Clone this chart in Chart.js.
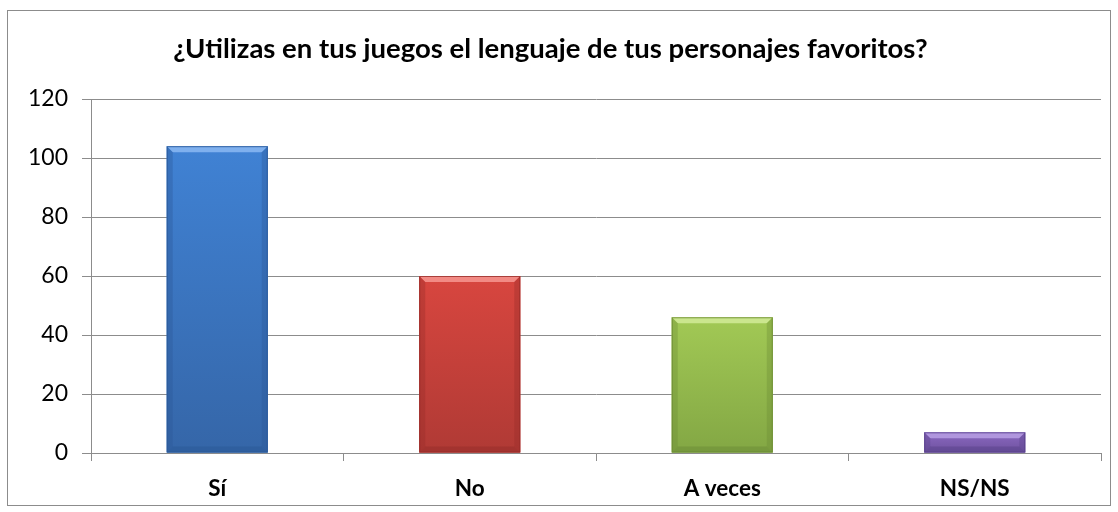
<!DOCTYPE html>
<html>
<head>
<meta charset="utf-8">
<script src="https://cdn.jsdelivr.net/npm/chart.js@4"></script>
<style>
  body { margin: 0; background: #fff; }
  #wrap { position: relative; width: 1118px; height: 512px; }
  #frame { position: absolute; left: 7px; top: 10px; width: 1102px; height: 494px; border: 1px solid #8c8c8c; pointer-events: none; }
</style>
</head>
<body>
<div id="wrap">
  <canvas id="chart" width="1118" height="512"></canvas>
  <div id="frame"></div>
</div>
<script>
const titleText = '¿Utilizas en tus juegos el lenguaje de tus personajes favoritos?';
const categories = ['Sí', 'No', 'A veces', 'NS/NS'];
const values = [104, 60, 46, 7];
const barColors = ['#4082d4', '#d8463f', '#a2c955', '#8a68c0'];
const bottomColors = ['#3566a8', '#b03a35', '#83a744', '#6f52a0'];
const lightColors = ['#7fb0ee', '#f28a84', '#cbe68e', '#b096de'];
const darkColors = ['#2a5796', '#962c29', '#6a8935', '#58418a'];

const FONT = "Lato, 'Noto Sans', sans-serif";

// bevel look on the bars, drawn from the bar elements' own geometry
const bevel = {
  id: 'bevel',
  afterDatasetsDraw(chart) {
    const ctx = chart.ctx;
    const meta = chart.getDatasetMeta(0);
    meta.data.forEach((bar, i) => {
      const { x, y, base, width } = bar.getProps(['x', 'y', 'base', 'width'], true);
      const l = x - width / 2, r = x + width / 2, t = y, b = base;
      const d = Math.min(6, (b - t) / 2);
      ctx.save();
      // face gradient
      const g = ctx.createLinearGradient(0, t, 0, b);
      g.addColorStop(0, barColors[i]);
      g.addColorStop(1, bottomColors[i]);
      ctx.fillStyle = g;
      ctx.fillRect(l, t, width, b - t);
      // top
      ctx.fillStyle = lightColors[i];
      ctx.beginPath();
      ctx.moveTo(l, t); ctx.lineTo(r, t); ctx.lineTo(r - d, t + d); ctx.lineTo(l + d, t + d);
      ctx.closePath(); ctx.fill();
      // sides and bottom
      ctx.fillStyle = darkColors[i];
      ctx.globalAlpha = 0.35;
      ctx.beginPath();
      ctx.moveTo(l, t); ctx.lineTo(l + d, t + d); ctx.lineTo(l + d, b - d); ctx.lineTo(l, b);
      ctx.closePath(); ctx.fill();
      ctx.beginPath();
      ctx.moveTo(r, t); ctx.lineTo(r, b); ctx.lineTo(r - d, b - d); ctx.lineTo(r - d, t + d);
      ctx.closePath(); ctx.fill();
      ctx.globalAlpha = 0.5;
      ctx.beginPath();
      ctx.moveTo(l, b); ctx.lineTo(r, b); ctx.lineTo(r - d, b - d); ctx.lineTo(l + d, b - d);
      ctx.closePath(); ctx.fill();
      ctx.globalAlpha = 0.8;
      ctx.strokeStyle = darkColors[i];
      ctx.lineWidth = 1;
      ctx.strokeRect(l + 0.5, t + 0.5, width - 1, b - t - 1);
      ctx.restore();
    });
  }
};

new Chart(document.getElementById('chart'), {
  type: 'bar',
  data: {
    labels: categories,
    datasets: [{
      data: values,
      backgroundColor: barColors,
      borderWidth: 0,
      barPercentage: 0.4,
      categoryPercentage: 1.0
    }]
  },
  options: {
    responsive: false,
    animation: false,
    layout: { padding: { top: 10, right: 17, bottom: 0, left: 0 } },
    plugins: {
      legend: { display: false },
      tooltip: { enabled: false },
      title: {
        display: true,
        text: titleText,
        color: '#000',
        font: { family: FONT, size: 27.5, weight: 'bold' },
        padding: { top: 23, bottom: 33 }
      }
    },
    scales: {
      x: {
        grid: { display: true, drawOnChartArea: false, offset: true, color: '#8c8c8c', tickLength: 8 },
        border: { color: '#8c8c8c' },
        ticks: { color: '#000', padding: 14, font: { family: FONT, size: 22.5, weight: 'bold' } },
        afterFit: (s) => { s.height = 59; }
      },
      y: {
        min: 0,
        max: 120,
        ticks: { stepSize: 20, color: '#000', padding: 14, font: { family: FONT, size: 23 } },
        grid: { color: '#8c8c8c', tickLength: 9 },
        border: { color: '#8c8c8c' },
        afterFit: (s) => { s.width = 91; }
      }
    }
  },
  plugins: [bevel]
});
</script>
</body>
</html>
